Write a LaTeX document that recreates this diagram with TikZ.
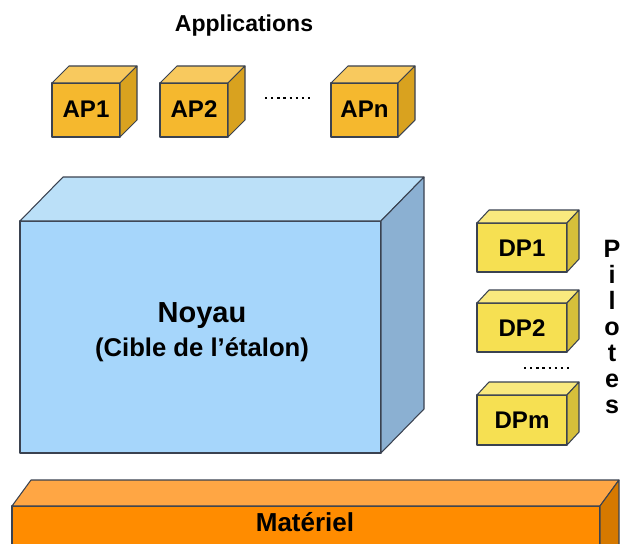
\documentclass[tikz,border=0pt]{standalone}
\usepackage{fontspec}
\setmainfont{Liberation Sans}
\usepackage{tikz}

\definecolor{edge}{HTML}{3A4250}
\definecolor{apfront}{HTML}{F5B82E}
\definecolor{aptop}{HTML}{F8C95E}
\definecolor{apside}{HTML}{D9A21F}
\definecolor{dpfront}{HTML}{F6E052}
\definecolor{dptop}{HTML}{F9E97E}
\definecolor{dpside}{HTML}{D6BF3A}
\definecolor{kfront}{HTML}{A6D6FB}
\definecolor{ktop}{HTML}{BBE0F8}
\definecolor{kside}{HTML}{8BB0D2}
\definecolor{hwfront}{HTML}{FF8C00}
\definecolor{hwtop}{HTML}{FFA644}
\definecolor{hwside}{HTML}{D67900}

% front face x1,y1,x2,y2 ; depth dx,dy ; colour prefix
\newcommand{\cuboid}[7]{%
  \filldraw[face, fill=#7front] (#1,#2) rectangle (#3,#4);
  \filldraw[face, fill=#7top] (#1,#2) -- (#1+#5,#2-#6) -- (#3+#5,#2-#6) -- (#3,#2) -- cycle;
  \filldraw[face, fill=#7side] (#3,#2) -- (#3+#5,#2-#6) -- (#3+#5,#4-#6) -- (#3,#4) -- cycle;
}

\begin{document}
\begin{tikzpicture}
[x=0.02cm, y=-0.02cm,
face/.style={draw=edge, line width=0.6pt, line join=round},
lbl/.style={inner sep=0pt, font=\bfseries\fontsize{13.7}{16}\selectfont},
dotline/.style={line width=1.3pt, dash pattern=on 1.3pt off 2.2pt}]
\useasboundingbox (0,0) rectangle (622,544);
\clip (0,0) rectangle (622,544);

\node[lbl, anchor=base, font=\bfseries\fontsize{13.1}{16}\selectfont] (apps) at (244,32) {Applications};

% applications
\cuboid{52}{83}{120}{137}{17}{17}{ap}
\cuboid{160}{83}{228}{137}{17}{17}{ap}
\cuboid{331}{83}{398}{137}{17}{17}{ap}
\node[lbl] (ap1) at (86,109) {AP1};
\node[lbl] (ap2) at (194,109) {AP2};
\node[lbl] (apn) at (364.5,109) {APn};
\draw[dotline] (265,98) -- (313,98);

% noyau
\cuboid{20}{221}{381}{453}{43}{44}{k}
\node[lbl, anchor=base, font=\bfseries\fontsize{16.5}{19}\selectfont] (noyau) at (202,322) {Noyau};
\node[lbl, anchor=base, font=\bfseries\fontsize{14.6}{17}\selectfont] (cible) at (202,356) {(Cible de l'étalon)};

% pilotes
\cuboid{477}{223}{567}{272}{12}{13}{dp}
\cuboid{477}{303}{567}{352}{12}{13}{dp}
\cuboid{477}{395}{567}{445}{12}{13}{dp}
\node[lbl] (dp1) at (522,248) {DP1};
\node[lbl] (dp2) at (522,328) {DP2};
\node[lbl] (dpm) at (522,420) {DPm};
\draw[dotline] (524,368) -- (571,368);
\node[lbl, anchor=north, align=center, font=\bfseries\fontsize{14.3}{14.8}\selectfont] (pilotes) at (612,240)
  {P\\i\\l\\o\\t\\e\\s};

% materiel
\cuboid{12}{506}{600}{580}{19}{26}{hw}
\node[lbl, anchor=base, font=\bfseries\fontsize{14.8}{17}\selectfont] (materiel) at (305,531) {Matériel};
\end{tikzpicture}
\end{document}
